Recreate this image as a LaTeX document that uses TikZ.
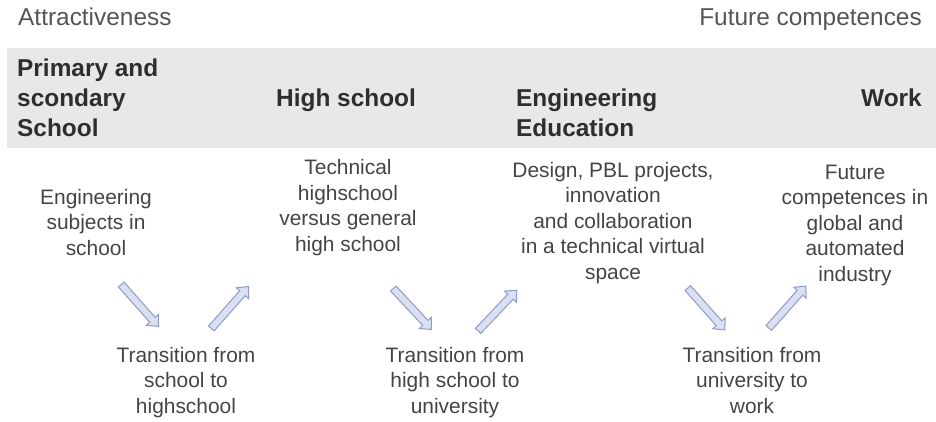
\documentclass[tikz,border=0pt]{standalone}
\usepackage{fontspec}
\setmainfont{Liberation Sans}
\usetikzlibrary{shapes.arrows}
\definecolor{bandgray}{HTML}{E8E8E8}
\definecolor{headtxt}{HTML}{2E2E2E}
\definecolor{bodytxt}{HTML}{444444}
\definecolor{toptxt}{HTML}{555555}
\definecolor{arrfill}{HTML}{DADFF1}
\definecolor{arrdraw}{HTML}{8F9BC6}
\tikzset{
  toplabel/.style={font=\fontsize{24.5}{28}\selectfont, text=toptxt, inner sep=0pt},
  headlabel/.style={font=\bfseries\fontsize{24.5}{30}\selectfont, text=headtxt, align=left, inner sep=0pt},
  bodylabel/.style={font=\fontsize{21}{25.5}\selectfont, text=bodytxt, align=center, inner sep=0pt},
  flowarrow/.style={single arrow, draw=arrdraw, fill=arrfill, line width=1bp,
    minimum height=56bp, text height=3.2bp, text depth=3.2bp, text width=0pt,
    single arrow head extend=4.5bp, single arrow tip angle=85, inner sep=0pt},
}
\begin{document}
\begin{tikzpicture}[x=1bp,y=-1bp]
\useasboundingbox (0,0) rectangle (936,421);
\fill[bandgray] (7,48) rectangle (936,148);
\node[toplabel, anchor=base west] (attr) at (18,25) {Attractiveness};
\node[toplabel, anchor=base east] (futc) at (922,25) {Future competences};
\node[headlabel, anchor=base west] (prim) at (17,136) {Primary and\\scondary\\School};
\node[headlabel, anchor=base west] (high) at (276,106) {High school};
\node[headlabel, anchor=base west] (engi) at (516,136) {Engineering\\Education};
\node[headlabel, anchor=base east] (work) at (922,106) {Work};
\node[bodylabel, anchor=base] (c1) at (96,255) {Engineering\\subjects in\\school};
\node[bodylabel, anchor=base] (c2) at (348,251) {Technical\\highschool\\versus general\\high school};
\node[bodylabel, anchor=base] (c3) at (613,279) {Design, PBL projects,\\innovation\\and collaboration\\in a technical virtual\\space};
\node[bodylabel, anchor=base] (c4) at (855,281) {Future\\competences in\\global and\\automated\\industry};
\node[bodylabel, anchor=base] (t1) at (186,413) {Transition from\\school to\\highschool};
\node[bodylabel, anchor=base] (t2) at (455,413) {Transition from\\high school to\\university};
\node[bodylabel, anchor=base] (t3) at (752,413) {Transition from\\university to\\work};
\node[flowarrow, rotate=-48.5] (a1) at (138.5,304) {};
\node[flowarrow, rotate=48.5] (a2) at (228.5,309) {};
\node[flowarrow, rotate=-47] (a3) at (411,307.5) {};
\node[flowarrow, rotate=46.5] (a4) at (496,312) {};
\node[flowarrow, rotate=-48.5] (a5) at (705,307.5) {};
\node[flowarrow, rotate=48.5] (a6) at (786,308.5) {};
\end{tikzpicture}
\end{document}
